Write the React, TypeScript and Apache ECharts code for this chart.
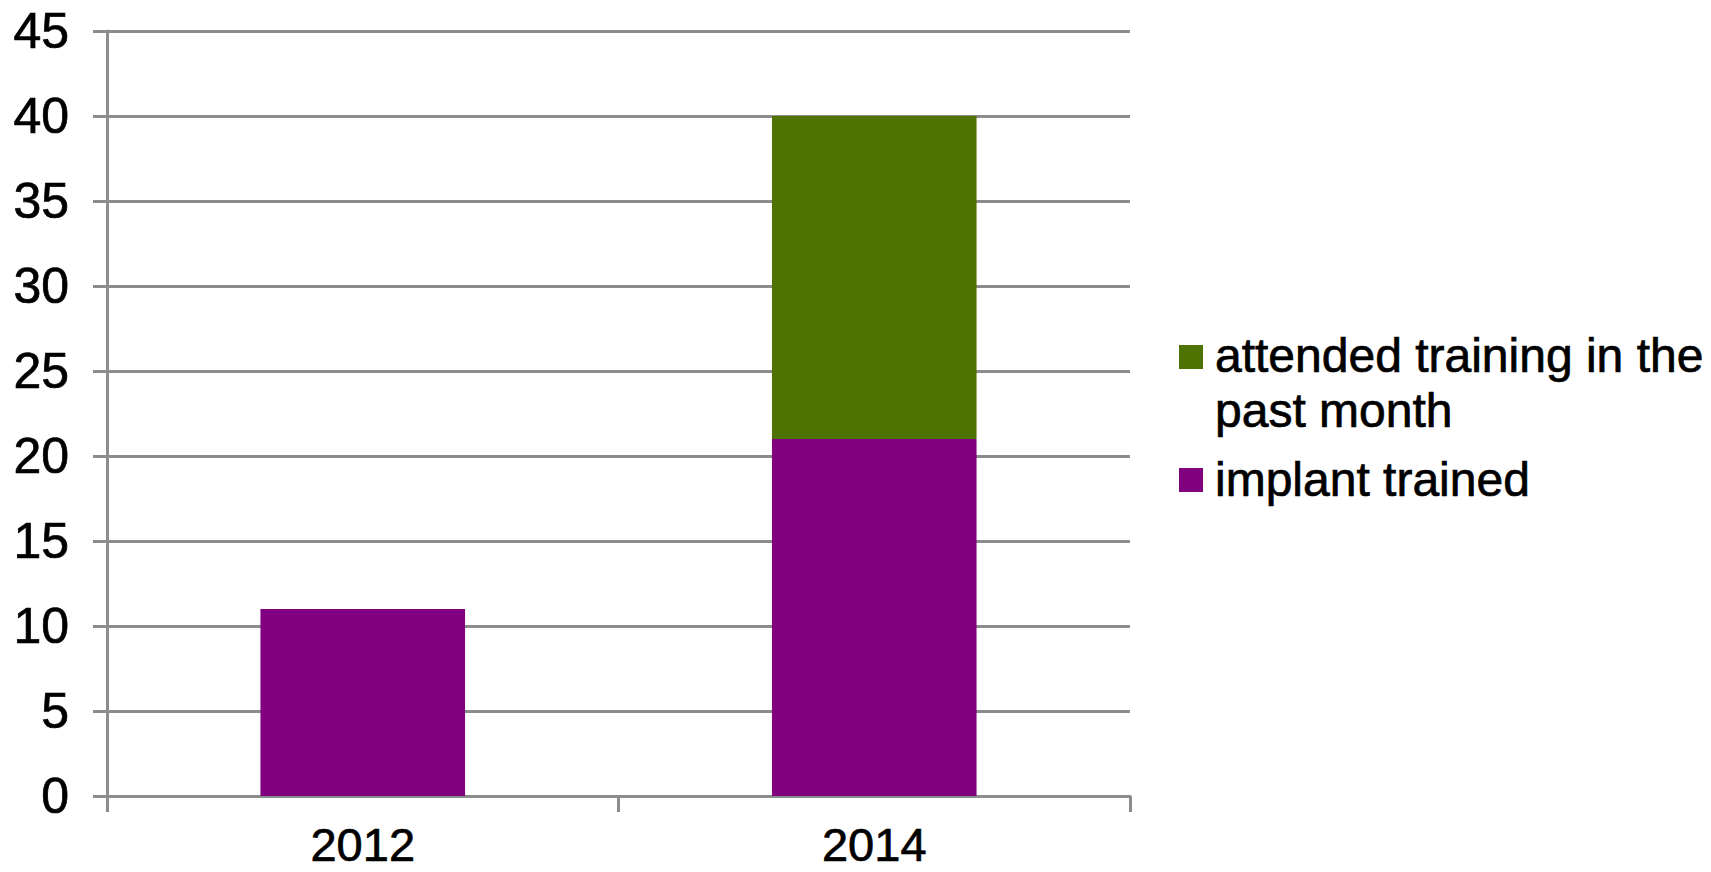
import React, { useEffect, useRef } from "react";
import * as echarts from "echarts";

const categories = ["2012", "2014"];
const implantTrained = [11, 21];
const attendedTraining = [0, 19];
const seriesNames = ["attended training in the\npast month", "implant trained"];
const seriesColors = ["#4e7300", "#800080"];
const yTicks = { min: 0, max: 45, interval: 5 };

export default function App() {
  const ref = useRef<HTMLDivElement>(null);
  useEffect(() => {
    if (!ref.current) return;
    const chart = echarts.init(ref.current, null, { renderer: "svg" });
    const grey = "#8c8c8c";
    const font = "Liberation Sans, Arial, sans-serif";
    const txt = {
      fontFamily: font,
      color: "#000",
      textBorderColor: "#000",
      textBorderWidth: 0.7,
    };
    chart.setOption({
      animation: false,
      grid: { left: 107, right: 581, top: 31, bottom: 76, containLabel: false },
      graphic: [
        {
          type: "rect",
          shape: { x: 1179, y: 345, width: 24, height: 24 },
          style: { fill: seriesColors[0] },
        },
        {
          type: "text",
          x: 1215,
          y: 328,
          style: {
            text: seriesNames[0],
            font: `48px ${font}`,
            fill: "#000",
            stroke: "#000",
            lineWidth: 0.7,
            lineHeight: 55,
          },
        },
        {
          type: "rect",
          shape: { x: 1179, y: 468, width: 24, height: 24 },
          style: { fill: seriesColors[1] },
        },
        {
          type: "text",
          x: 1215,
          y: 452,
          style: {
            text: seriesNames[1],
            font: `48px ${font}`,
            fill: "#000",
            stroke: "#000",
            lineWidth: 0.7,
            lineHeight: 55,
          },
        },
      ],
      xAxis: {
        type: "category",
        data: categories,
        axisLine: { lineStyle: { color: grey, width: 3 } },
        axisTick: { show: true, length: 16, lineStyle: { color: grey, width: 3 } },
        axisLabel: { ...txt, fontSize: 47, lineHeight: 36, margin: 30 },
      },
      yAxis: {
        type: "value",
        min: yTicks.min,
        max: yTicks.max,
        interval: yTicks.interval,
        axisLine: { show: true, lineStyle: { color: grey, width: 3 } },
        axisTick: { show: true, length: 14, lineStyle: { color: grey, width: 3 } },
        splitLine: { show: true, lineStyle: { color: grey, width: 3 } },
        axisLabel: { ...txt, fontSize: 50, margin: 38 },
      },
      series: [
        {
          name: seriesNames[1],
          type: "bar",
          stack: "s",
          barWidth: "40%",
          data: implantTrained,
          itemStyle: { color: seriesColors[1] },
        },
        {
          name: seriesNames[0],
          type: "bar",
          stack: "s",
          barWidth: "40%",
          data: attendedTraining.map((v) => (v === 0 ? null : v)),
          itemStyle: { color: seriesColors[0] },
        },
      ],
    });
    return () => chart.dispose();
  }, []);
  return (
    <div
      ref={ref}
      style={{ position: "absolute", left: 0, top: 0, width: 1711, height: 872, background: "#fff" }}
    />
  );
}
